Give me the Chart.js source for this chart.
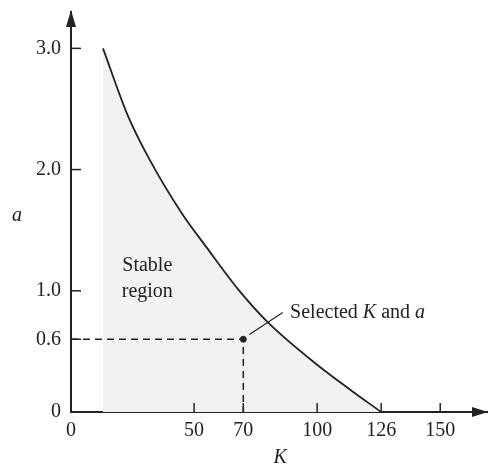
<!DOCTYPE html>
<html>
<head>
<meta charset="utf-8">
<script src="https://cdn.jsdelivr.net/npm/chart.js@4/dist/chart.umd.min.js"></script>
<style>
  html, body { margin: 0; padding: 0; background: #ffffff; }
  #wrap { width: 492px; height: 469px; position: relative; }
</style>
</head>
<body>
<div id="wrap"><canvas id="chart"></canvas></div>
<script>
/* datos */
const curveK = [13, 23, 32, 45, 55, 68, 80, 100, 113, 126];
const curveA = [3.0, 2.45, 2.08, 1.64, 1.36, 1.01, 0.74, 0.39, 0.19, 0];

const guideK = [0, 70, 70];
const guideA = [0.6, 0.6, 0];

const selectedK = [70];
const selectedA = [0.6];

const leaderK = [72.5, 86];
const leaderA = [0.64, 0.82];

const kTicks = [0, 50, 70, 100, 126, 150];
const kTickLabels = ['0', '50', '70', '100', '126', '150'];
const aTicks = [0, 0.6, 1.0, 2.0, 3.0];
const aTickLabels = ['0', '0.6', '1.0', '2.0', '3.0'];

const INK = '#222222';
const SERIF = '"Liberation Serif", "Times New Roman", serif';
const FONT_SIZE = 20;

const toPoints = (xs, ys) => xs.map((v, i) => ({ x: v, y: ys[i] }));

/* ======================================================
   Marcas interiores, flechas y textos
====================================================== */
const overlay = {
  id: 'overlay',
  afterDraw(chart) {
    const { ctx, chartArea: area, scales: { x, y } } = chart;
    ctx.save();
    ctx.strokeStyle = INK;
    ctx.fillStyle = INK;
    ctx.lineWidth = 1.5;

    // ticks hacia dentro
    aTicks.forEach(v => {
      if (v === 0) return;
      const py = y.getPixelForValue(v);
      ctx.beginPath();
      ctx.moveTo(area.left, py);
      ctx.lineTo(area.left + 10, py);
      ctx.stroke();
    });
    kTicks.forEach(v => {
      if (v === 0) return;
      const px = x.getPixelForValue(v);
      ctx.beginPath();
      ctx.moveTo(px, area.bottom);
      ctx.lineTo(px, area.bottom - 9);
      ctx.stroke();
    });

    // flechas de los ejes
    ctx.beginPath();
    ctx.moveTo(area.left, area.top - 2);
    ctx.lineTo(area.left - 5, area.top + 15);
    ctx.lineTo(area.left + 5, area.top + 15);
    ctx.closePath();
    ctx.fill();

    ctx.beginPath();
    ctx.moveTo(area.right + 1, area.bottom);
    ctx.lineTo(area.right - 15, area.bottom - 5);
    ctx.lineTo(area.right - 15, area.bottom + 5);
    ctx.closePath();
    ctx.fill();

    // textos
    const normal = `${FONT_SIZE}px ${SERIF}`;
    const italic = `italic ${FONT_SIZE}px ${SERIF}`;
    ctx.textBaseline = 'middle';

    ctx.font = normal;
    ctx.textAlign = 'center';
    ctx.fillText('Stable', x.getPixelForValue(31), y.getPixelForValue(1.21));
    ctx.fillText('region', x.getPixelForValue(31), y.getPixelForValue(0.99));

    ctx.textAlign = 'left';
    let cx = x.getPixelForValue(89);
    const cy = y.getPixelForValue(0.82);
    [['Selected ', normal], ['K', italic], [' and ', normal], ['a', italic]].forEach(([t, f]) => {
      ctx.font = f;
      ctx.fillText(t, cx, cy);
      cx += ctx.measureText(t).width;
    });

    ctx.font = italic;
    ctx.textAlign = 'center';
    ctx.fillText('a', area.left - 54, y.getPixelForValue(1.62));
    ctx.fillText('K', x.getPixelForValue(85), area.bottom + 46);

    ctx.restore();
  }
};

new Chart(document.getElementById('chart'), {
  type: 'scatter',
  data: {
    datasets: [
      {
        // curva límite, se dibuja primero para que el relleno quede debajo
        order: 10,
        data: toPoints(curveK, curveA),
        showLine: true,
        borderColor: INK,
        borderWidth: 1.8,
        backgroundColor: '#f2f2f2',
        fill: 'origin',
        pointRadius: 0,
        cubicInterpolationMode: 'monotone'
      },
      {
        order: 1,
        data: toPoints(guideK, guideA),
        showLine: true,
        borderColor: INK,
        borderWidth: 1.5,
        borderDash: [7, 5],
        pointRadius: 0,
        fill: false
      },
      {
        order: 0,
        data: toPoints(selectedK, selectedA),
        showLine: false,
        pointRadius: 3,
        pointBackgroundColor: INK,
        pointBorderColor: INK
      },
      {
        order: 0,
        data: toPoints(leaderK, leaderA),
        showLine: true,
        borderColor: INK,
        borderWidth: 1.2,
        pointRadius: 0,
        fill: false
      }
    ]
  },
  options: {
    responsive: true,
    maintainAspectRatio: false,
    animation: false,
    layout: { padding: { top: 12, right: 2, left: 0, bottom: 0 } },
    plugins: {
      legend: { display: false },
      tooltip: { enabled: false }
    },
    scales: {
      x: {
        type: 'linear',
        min: 0,
        max: 169,
        afterBuildTicks: s => { s.ticks = kTicks.map(v => ({ value: v })); },
        afterFit: s => { s.height = 57; s.paddingLeft = 0; s.paddingRight = 0; },
        grid: { display: false, drawTicks: false },
        border: { display: true, color: INK, width: 2 },
        ticks: {
          padding: 7,
          color: INK,
          font: { family: SERIF, size: FONT_SIZE },
          maxRotation: 0,
          autoSkip: false,
          callback: v => kTickLabels[kTicks.indexOf(v)]
        }
      },
      y: {
        type: 'linear',
        min: 0,
        max: 3.3,
        afterBuildTicks: s => { s.ticks = aTicks.map(v => ({ value: v })); },
        afterFit: s => { s.width = 71; s.paddingTop = 0; s.paddingBottom = 0; },
        grid: { display: false, drawTicks: false },
        border: { display: true, color: INK, width: 2 },
        ticks: {
          padding: 10,
          color: INK,
          font: { family: SERIF, size: FONT_SIZE },
          autoSkip: false,
          callback: v => aTickLabels[aTicks.indexOf(v)]
        }
      }
    }
  },
  plugins: [overlay]
});
</script>
</body>
</html>
